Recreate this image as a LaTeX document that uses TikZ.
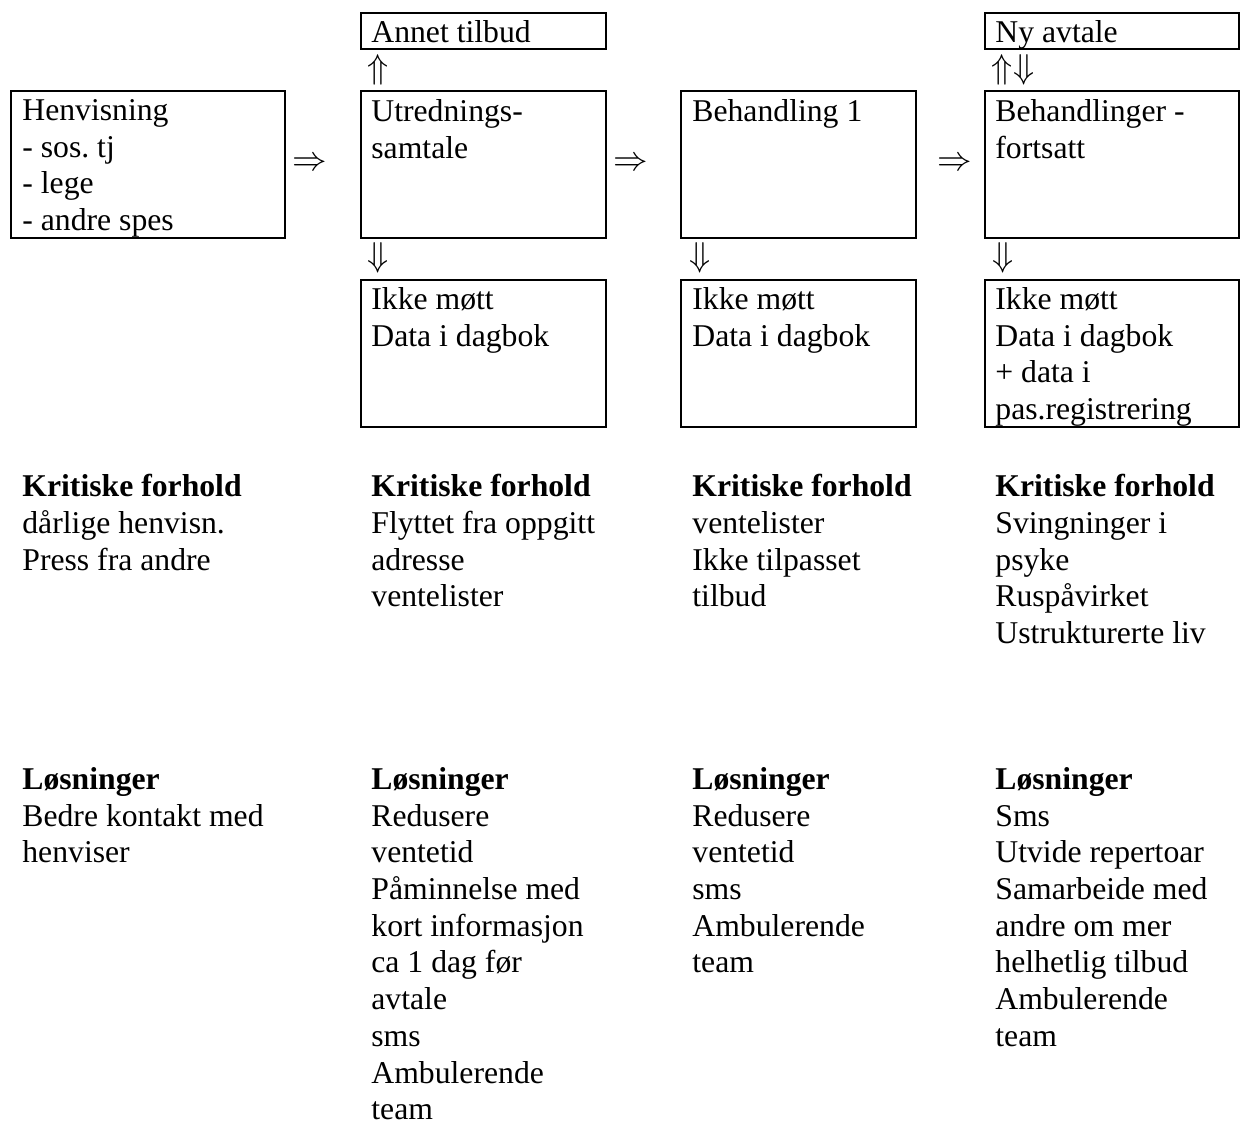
\documentclass[tikz,border=0pt]{standalone}
\usepackage{fontspec}
\setmainfont{Liberation Serif}
\frenchspacing
\begin{document}
\begin{tikzpicture}[x=0.5pt,y=-0.5pt,
 box/.style={draw, line width=1pt, inner sep=0pt, outer sep=0pt, anchor=north west},
 txt/.style={anchor=north west, inner sep=0pt, align=left, font=\fontsize{15.85}{18.35}\selectfont},
 sym/.style={inner sep=0pt, font=\fontsize{17.5}{18.35}\selectfont}]
\useasboundingbox (0,0) rectangle (1241,1122);
% boxes
\node[box, minimum width=137pt, minimum height=73.5pt] (henv) at (11,91) {};
\node[box, minimum width=122.5pt, minimum height=18pt] (annet) at (361,13) {};
\node[box, minimum width=122.5pt, minimum height=73.5pt] (utr) at (361,91) {};
\node[box, minimum width=122.5pt, minimum height=73.5pt] (ikkeA) at (361,280) {};
\node[box, minimum width=117.5pt, minimum height=73.5pt] (beh) at (681,91) {};
\node[box, minimum width=117.5pt, minimum height=73.5pt] (ikkeB) at (681,280) {};
\node[box, minimum width=127pt, minimum height=18pt] (ny) at (985,13) {};
\node[box, minimum width=127pt, minimum height=73.5pt] (behf) at (985,91) {};
\node[box, minimum width=127pt, minimum height=73.5pt] (ikkeC) at (985,280) {};
% box texts
\node[txt] (t-henv) at (22,99) {Henvisning\\- sos. tj\\- lege\\- andre spes};
\node[txt] (t-annet) at (371,20) {Annet tilbud};
\node[txt] (t-utr) at (371,99) {Utrednings-\\samtale};
\node[txt] (t-ikkeA) at (371,287) {Ikke møtt\\Data i dagbok};
\node[txt] (t-beh) at (692,99) {Behandling 1};
\node[txt] (t-ikkeB) at (692,287) {Ikke møtt\\Data i dagbok};
\node[txt] (t-ny) at (995,20) {Ny avtale};
\node[txt] (t-behf) at (995,99) {Behandlinger -\\fortsatt};
\node[txt] (t-ikkeC) at (995,287) {Ikke møtt\\Data i dagbok\\+ data i\\pas.registrering};
% arrows
\node[sym] (a1) at (310,164) {$\Rightarrow$};
\node[sym] (a2) at (631,164) {$\Rightarrow$};
\node[sym] (a3) at (955,164) {$\Rightarrow$};
\node[sym] (u1) at (378,70) {$\Uparrow$};
\node[sym] (u2) at (1013,70) {$\Uparrow\Downarrow$};
\node[sym] (d1) at (378,258) {$\Downarrow$};
\node[sym] (d2) at (700,258) {$\Downarrow$};
\node[sym] (d3) at (1003,258) {$\Downarrow$};
% critical
\node[txt] (k1) at (22,474) {\textbf{Kritiske forhold}\\dårlige henvisn.\\Press fra andre};
\node[txt] (k2) at (371,474) {\textbf{Kritiske forhold}\\Flyttet fra oppgitt\\adresse\\ventelister};
\node[txt] (k3) at (692,474) {\textbf{Kritiske forhold}\\ventelister\\Ikke tilpasset\\tilbud};
\node[txt] (k4) at (995,474) {\textbf{Kritiske forhold}\\Svingninger i\\psyke\\Ruspåvirket\\Ustrukturerte liv};
% solutions
\node[txt] (l1) at (22,767) {\textbf{Løsninger}\\Bedre kontakt med\\henviser};
\node[txt] (l2) at (371,767) {\textbf{Løsninger}\\Redusere\\ventetid\\Påminnelse med\\kort informasjon\\ca 1 dag før\\avtale\\sms\\Ambulerende\\team};
\node[txt] (l3) at (692,767) {\textbf{Løsninger}\\Redusere\\ventetid\\sms\\Ambulerende\\team};
\node[txt] (l4) at (995,767) {\textbf{Løsninger}\\Sms\\Utvide repertoar\\Samarbeide med\\andre om mer\\helhetlig tilbud\\Ambulerende\\team};
\end{tikzpicture}
\end{document}
